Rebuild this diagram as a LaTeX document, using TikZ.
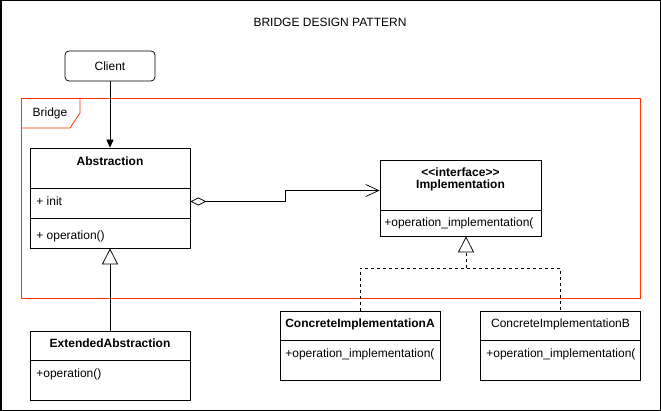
\documentclass[tikz,border=0pt]{standalone}
\usepackage{fontspec}
\setmainfont{Liberation Sans}
\usepackage{xcolor}
\usetikzlibrary{arrows.meta,calc}
\definecolor{BridgeRed}{HTML}{FF3300}
\newcommand{\umlfont}{\fontsize{12}{14}\selectfont}

\tikzset{
  umlbox/.style={draw,minimum width=160pt,inner sep=0pt},
  umlname/.style={font=\umlfont\bfseries,inner sep=0pt},
  umlmember/.style={font=\umlfont,anchor=west,inner sep=0pt},
  generalize/.style={-{Triangle[open,length=16pt,width=16pt]}},
  realize/.style={dash pattern=on 3pt off 3pt},
}

\begin{document}
\begin{tikzpicture}[x=1pt,y=-1pt,line width=0.75pt,every node/.append style={font=\umlfont}]
     \useasboundingbox (0,0) rectangle (661,411);
     \draw[line width=1.5pt] (0.75,0.75) rectangle (660.25,410.25);

     \node[inner sep=0pt] (title) at (330,22) {BRIDGE DESIGN PATTERN};
     \node[draw,rounded corners=4pt,minimum width=90pt,minimum height=30pt] (client) at (110,66) {Client};

     % the bridge frame
     \draw[BridgeRed] (21,98) rectangle (640,298);
     \draw[BridgeRed] (21,128) -- (70,128) -- (80,113) -- (80,98);
     \node[inner sep=0pt] (bridgeLbl) at (50,113) {Bridge};

     % abstraction side
     \node[umlbox,minimum height=40pt] (absHead) at (110,168) {};
     \node[umlbox,minimum height=30pt] (absAttr) at (110,203) {};
     \node[umlbox,minimum height=30pt] (absOps) at (110,233) {};
     \node[umlname] (absName) at (110,161) {Abstraction};
     \node[umlmember] (absInit) at (36,201) {+ init};
     \node[umlmember] (absOper) at (36,236) {+ operation()};

     \node[umlbox,minimum height=29pt] (extHead) at (110,345.5) {};
     \node[umlbox,minimum height=40pt] (extOps) at (110,380) {};
     \node[umlname] (extName) at (110,343.5) {ExtendedAbstraction};
     \node[umlmember] (extOper) at (36,374) {+operation()};

     % implementation side
     \node[umlbox,minimum width=161pt,minimum height=50pt] (implHead) at (460.5,185) {};
     \node[umlbox,minimum width=161pt,minimum height=26pt] (implOps) at (460.5,223) {};
     \node[umlname,align=center] (implName) at (460.5,179.5) {{<}{<}interface{>}{>}\\[-1.5pt]Implementation};
     \node[umlmember] (implOper) at (384,223) {+operation\_implementation(};

     \node[umlbox,minimum height=29pt] (concAHead) at (360,325.5) {};
     \node[umlbox,minimum height=40pt] (concAOps) at (360,360) {};
     \node[umlname] (concAName) at (360,324.5) {ConcreteImplementationA};
     \node[umlmember] (concAOper) at (285,354) {+operation\_implementation(};

     \node[umlbox,minimum height=29pt] (concBHead) at (560.5,325.5) {};
     \node[umlbox,minimum height=40pt] (concBOps) at (560.5,360) {};
     \node[inner sep=0pt] (concBName) at (560.5,324.5) {ConcreteImplementationB};
     \node[umlmember] (concBOper) at (486,354) {+operation\_implementation(};

     % connectors
     \draw[-{Triangle[length=8pt,width=7pt]}] (client) -- (absHead);
     \draw[{Diamond[open,length=16pt,width=8pt]}-{Straight Barb[length=13pt,width=12pt]}]
          ([yshift=1.5pt]absAttr.east) -- ++(95,0) |- ([yshift=-5.5pt]implHead.west);
     \draw[generalize] (extHead) -- (absOps);

     \coordinate (implJoin) at (466,268);
     \draw[realize] (concAHead.north) |- (implJoin) -| (concBHead.north);
     \draw[realize,generalize] (implJoin) -- (implJoin |- implOps.south);
\end{tikzpicture}
\end{document}
